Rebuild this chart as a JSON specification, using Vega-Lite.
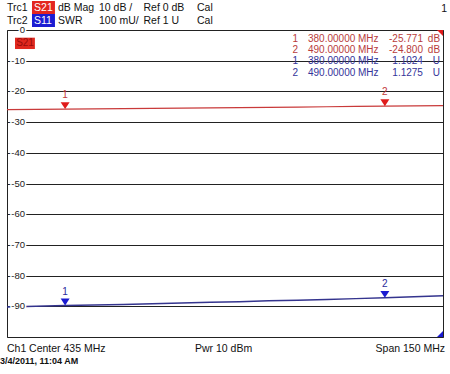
{
  "$schema": "https://vega.github.io/schema/vega-lite/v6.json",
  "width": 436,
  "height": 307,
  "autosize": {"type": "none"},
  "padding": {"left": 7, "top": 30, "right": 7, "bottom": 37},
  "background": "white",
  "config": {
    "font": "Liberation Sans",
    "view": {"stroke": "#222222", "strokeWidth": 1},
    "text": {"font": "Liberation Sans"}
  },
  "datasets": {
    "s21": [
      {"f": 360, "db": -25.95}, {"f": 370, "db": -25.88}, {"f": 380, "db": -25.771},
      {"f": 390, "db": -25.72}, {"f": 400, "db": -25.62}, {"f": 410, "db": -25.55},
      {"f": 420, "db": -25.45}, {"f": 430, "db": -25.38}, {"f": 440, "db": -25.3},
      {"f": 450, "db": -25.2}, {"f": 460, "db": -25.1}, {"f": 470, "db": -25.0},
      {"f": 480, "db": -24.9}, {"f": 490, "db": -24.8}, {"f": 500, "db": -24.72},
      {"f": 510, "db": -24.62}
    ],
    "swr": [
      {"f": 360, "swr": 1.098}, {"f": 370, "swr": 1.1}, {"f": 380, "swr": 1.1024},
      {"f": 390, "swr": 1.104}, {"f": 400, "swr": 1.106}, {"f": 410, "swr": 1.108},
      {"f": 420, "swr": 1.111}, {"f": 430, "swr": 1.113}, {"f": 440, "swr": 1.115},
      {"f": 450, "swr": 1.118}, {"f": 460, "swr": 1.12}, {"f": 470, "swr": 1.122},
      {"f": 480, "swr": 1.125}, {"f": 490, "swr": 1.1275}, {"f": 500, "swr": 1.131},
      {"f": 510, "swr": 1.134}
    ],
    "s21markers": [
      {"marker": "1", "f": 380, "db": -25.771},
      {"marker": "2", "f": 490, "db": -24.8}
    ],
    "swrmarkers": [
      {"marker": "1", "f": 380, "swr": 1.1024},
      {"marker": "2", "f": 490, "swr": 1.1275}
    ],
    "refs": [
      {"trace": "S21", "ref": 0, "unit": "dB"},
      {"trace": "S11", "ref": 1, "unit": "U"}
    ],
    "ticks": [
      {"db": 0, "label": "0"}, {"db": -10, "label": "-10"}, {"db": -20, "label": "-20"},
      {"db": -30, "label": "-30"}, {"db": -40, "label": "-40"}, {"db": -50, "label": "-50"},
      {"db": -60, "label": "-60"}, {"db": -70, "label": "-70"}, {"db": -80, "label": "-80"},
      {"db": -90, "label": "-90"}
    ],
    "readout": [
      {"row": 1, "trace": "S21", "marker": "1", "freq": "380.00000 MHz", "value": "-25.771", "unit": "dB"},
      {"row": 2, "trace": "S21", "marker": "2", "freq": "490.00000 MHz", "value": "-24.800", "unit": "dB"},
      {"row": 3, "trace": "S11", "marker": "1", "freq": "380.00000 MHz", "value": "1.1024", "unit": "U"},
      {"row": 4, "trace": "S11", "marker": "2", "freq": "490.00000 MHz", "value": "1.1275", "unit": "U"}
    ],
    "header": [
      {"line": 1, "trc": "Trc1", "param": "S21", "format": "dB Mag", "scale": "10 dB /", "ref": "Ref 0 dB", "cal": "Cal"},
      {"line": 2, "trc": "Trc2", "param": "S11", "format": "SWR", "scale": "100 mU/", "ref": "Ref 1 U", "cal": "Cal"}
    ],
    "channel": [{"ch": "1"}],
    "active": [{"param": "S21"}],
    "footer": [
      {"ch": "Ch1", "center": "Center  435 MHz", "pwr": "Pwr  10 dBm", "span": "Span  150 MHz", "stamp": "3/4/2011, 11:04 AM"}
    ]
  },
  "resolve": {"scale": {"y": "independent", "color": "independent"}},
  "layer": [
    {
      "data": {"name": "s21"},
      "mark": {"type": "line", "color": "#c93a3a", "strokeWidth": 1.2},
      "encoding": {
        "x": {"field": "f", "type": "quantitative", "scale": {"domain": [360, 510], "nice": false, "zero": false},
          "axis": {"values": [360, 375, 390, 405, 420, 435, 450, 465, 480, 495, 510], "grid": true, "labels": false, "ticks": false, "domain": false, "title": null,
            "gridColor": {"condition": {"test": "datum.value === 405 || datum.value === 450 || datum.value === 495", "value": "#9a9a9a"}, "value": "#222222"},
            "gridOpacity": 1, "gridWidth": 1}},
        "y": {"field": "db", "type": "quantitative", "scale": {"domain": [-100, 0], "nice": false, "zero": false},
          "axis": {"values": [-100, -90, -80, -70, -60, -50, -40, -30, -20, -10, 0], "grid": true, "labels": false, "ticks": false, "domain": false, "title": null, "gridColor": "#222222", "gridOpacity": 1, "gridWidth": 1}}
      }
    },
    {
      "data": {"name": "swr"},
      "mark": {"type": "line", "color": "#34348e", "strokeWidth": 1.5},
      "encoding": {
        "x": {"field": "f", "type": "quantitative", "scale": {"domain": [360, 510], "nice": false, "zero": false}, "axis": null},
        "y": {"field": "swr", "type": "quantitative", "scale": {"domain": [1, 2], "nice": false, "zero": false}, "axis": null}
      }
    },
    {
      "data": {"name": "s21markers"},
      "mark": {"type": "point", "shape": "M-1,-1.55L1,-1.55L0,0Z", "size": 81, "filled": true, "opacity": 1, "color": "#e01b1b", "strokeWidth": 0},
      "encoding": {
        "x": {"field": "f", "type": "quantitative", "scale": {"domain": [360, 510], "nice": false, "zero": false}, "axis": null},
        "y": {"field": "db", "type": "quantitative", "scale": {"domain": [-100, 0], "nice": false, "zero": false}, "axis": null}
      }
    },
    {
      "data": {"name": "s21markers"},
      "mark": {"type": "text", "fontSize": 10, "color": "#c23b3b", "dy": -14, "baseline": "middle", "align": "center"},
      "encoding": {
        "x": {"field": "f", "type": "quantitative", "scale": {"domain": [360, 510], "nice": false, "zero": false}, "axis": null},
        "y": {"field": "db", "type": "quantitative", "scale": {"domain": [-100, 0], "nice": false, "zero": false}, "axis": null},
        "text": {"field": "marker"}
      }
    },
    {
      "data": {"name": "swrmarkers"},
      "mark": {"type": "point", "shape": "M-1,-1.55L1,-1.55L0,0Z", "size": 81, "filled": true, "opacity": 1, "color": "#1a1ad0", "strokeWidth": 0},
      "encoding": {
        "x": {"field": "f", "type": "quantitative", "scale": {"domain": [360, 510], "nice": false, "zero": false}, "axis": null},
        "y": {"field": "swr", "type": "quantitative", "scale": {"domain": [1, 2], "nice": false, "zero": false}, "axis": null}
      }
    },
    {
      "data": {"name": "swrmarkers"},
      "mark": {"type": "text", "fontSize": 10, "color": "#2b2b9b", "dy": -14, "baseline": "middle", "align": "center"},
      "encoding": {
        "x": {"field": "f", "type": "quantitative", "scale": {"domain": [360, 510], "nice": false, "zero": false}, "axis": null},
        "y": {"field": "swr", "type": "quantitative", "scale": {"domain": [1, 2], "nice": false, "zero": false}, "axis": null},
        "text": {"field": "marker"}
      }
    },
    {
      "data": {"name": "refs"},
      "transform": [{"filter": "datum.trace === 'S21'"}],
      "mark": {"type": "point", "shape": "M-1,0L0,0L0,1Z", "size": 144, "filled": true, "opacity": 1, "color": "#e01b1b", "strokeWidth": 0},
      "encoding": {
        "x": {"datum": 510, "scale": {"domain": [360, 510], "nice": false, "zero": false}, "axis": null},
        "y": {"field": "ref", "type": "quantitative", "scale": {"domain": [-100, 0], "nice": false, "zero": false}, "axis": null}
      }
    },
    {
      "data": {"name": "refs"},
      "transform": [{"filter": "datum.trace === 'S11'"}],
      "mark": {"type": "point", "shape": "M0,-1L0,0L-1,0Z", "size": 144, "filled": true, "opacity": 1, "color": "#1a1ad0", "strokeWidth": 0},
      "encoding": {
        "x": {"datum": 510, "scale": {"domain": [360, 510], "nice": false, "zero": false}, "axis": null},
        "y": {"field": "ref", "type": "quantitative", "scale": {"domain": [1, 2], "nice": false, "zero": false}, "axis": null}
      }
    },
    {
      "data": {"name": "ticks"},
      "mark": {"type": "text", "fontSize": 9.5, "align": "right", "baseline": "middle", "stroke": "white", "strokeWidth": 3, "fill": "white"},
      "encoding": {
        "x": {"datum": 366.2, "scale": {"domain": [360, 510], "nice": false, "zero": false}, "axis": null},
        "y": {"field": "db", "type": "quantitative", "scale": {"domain": [-100, 0], "nice": false, "zero": false}, "axis": null},
        "text": {"field": "label"}
      }
    },
    {
      "data": {"name": "ticks"},
      "mark": {"type": "text", "fontSize": 9.5, "align": "right", "baseline": "middle", "color": "#222222"},
      "encoding": {
        "x": {"datum": 366.2, "scale": {"domain": [360, 510], "nice": false, "zero": false}, "axis": null},
        "y": {"field": "db", "type": "quantitative", "scale": {"domain": [-100, 0], "nice": false, "zero": false}, "axis": null},
        "text": {"field": "label"}
      }
    },
    {
      "data": {"name": "active"},
      "mark": {"type": "rect", "color": "#e0281e"},
      "encoding": {
        "x": {"datum": 362.75, "scale": {"domain": [360, 510], "nice": false, "zero": false}, "axis": null},
        "x2": {"datum": 369.6},
        "y": {"datum": -2.5, "scale": {"domain": [-100, 0], "nice": false, "zero": false}, "axis": null},
        "y2": {"datum": -6.2}
      }
    },
    {
      "data": {"name": "active"},
      "mark": {"type": "text", "fontSize": 10, "align": "center", "baseline": "middle", "color": "#9a0c0c"},
      "encoding": {
        "x": {"datum": 366.2, "scale": {"domain": [360, 510], "nice": false, "zero": false}, "axis": null},
        "y": {"datum": -4.35, "scale": {"domain": [-100, 0], "nice": false, "zero": false}, "axis": null},
        "text": {"field": "param"}
      }
    },
    {
      "data": {"name": "header"},
      "mark": {"type": "rect"},
      "encoding": {
        "x": {"datum": 368.6, "scale": {"domain": [360, 510], "nice": false, "zero": false}, "axis": null},
        "x2": {"datum": 376.5},
        "y": {"field": "line", "type": "ordinal", "scale": {"type": "band", "domain": [1, 2], "range": [-29, -3], "paddingInner": 0, "paddingOuter": 0}, "axis": null},
        "color": {"field": "param", "type": "nominal", "scale": {"domain": ["S21", "S11"], "range": ["#e3261f", "#1c1cd2"]}, "legend": null}
      }
    },
    {
      "data": {"name": "header"},
      "mark": {"type": "text", "fontSize": 10.5, "align": "left", "baseline": "middle", "color": "#111111"},
      "encoding": {
        "x": {"datum": 360.0, "scale": {"domain": [360, 510], "nice": false, "zero": false}, "axis": null},
        "y": {"field": "line", "type": "ordinal", "scale": {"type": "band", "domain": [1, 2], "range": [-29, -3], "paddingInner": 0, "paddingOuter": 0}, "axis": null},
        "text": {"field": "trc"}
      }
    },
    {
      "data": {"name": "header"},
      "mark": {"type": "text", "fontSize": 10.5, "align": "left", "baseline": "middle", "color": "white"},
      "encoding": {
        "x": {"datum": 369.3, "scale": {"domain": [360, 510], "nice": false, "zero": false}, "axis": null},
        "y": {"field": "line", "type": "ordinal", "scale": {"type": "band", "domain": [1, 2], "range": [-29, -3], "paddingInner": 0, "paddingOuter": 0}, "axis": null},
        "text": {"field": "param"}
      }
    },
    {
      "data": {"name": "header"},
      "mark": {"type": "text", "fontSize": 10.5, "align": "left", "baseline": "middle", "color": "#111111"},
      "encoding": {
        "x": {"datum": 377.55, "scale": {"domain": [360, 510], "nice": false, "zero": false}, "axis": null},
        "y": {"field": "line", "type": "ordinal", "scale": {"type": "band", "domain": [1, 2], "range": [-29, -3], "paddingInner": 0, "paddingOuter": 0}, "axis": null},
        "text": {"field": "format"}
      }
    },
    {
      "data": {"name": "header"},
      "mark": {"type": "text", "fontSize": 10.5, "align": "left", "baseline": "middle", "color": "#111111"},
      "encoding": {
        "x": {"datum": 391.65, "scale": {"domain": [360, 510], "nice": false, "zero": false}, "axis": null},
        "y": {"field": "line", "type": "ordinal", "scale": {"type": "band", "domain": [1, 2], "range": [-29, -3], "paddingInner": 0, "paddingOuter": 0}, "axis": null},
        "text": {"field": "scale"}
      }
    },
    {
      "data": {"name": "header"},
      "mark": {"type": "text", "fontSize": 10.5, "align": "left", "baseline": "middle", "color": "#111111"},
      "encoding": {
        "x": {"datum": 406.96, "scale": {"domain": [360, 510], "nice": false, "zero": false}, "axis": null},
        "y": {"field": "line", "type": "ordinal", "scale": {"type": "band", "domain": [1, 2], "range": [-29, -3], "paddingInner": 0, "paddingOuter": 0}, "axis": null},
        "text": {"field": "ref"}
      }
    },
    {
      "data": {"name": "header"},
      "mark": {"type": "text", "fontSize": 10.5, "align": "left", "baseline": "middle", "color": "#111111"},
      "encoding": {
        "x": {"datum": 425.36, "scale": {"domain": [360, 510], "nice": false, "zero": false}, "axis": null},
        "y": {"field": "line", "type": "ordinal", "scale": {"type": "band", "domain": [1, 2], "range": [-29, -3], "paddingInner": 0, "paddingOuter": 0}, "axis": null},
        "text": {"field": "cal"}
      }
    },
    {
      "data": {"name": "channel"},
      "mark": {"type": "text", "fontSize": 10.5, "align": "right", "baseline": "middle", "color": "#111111"},
      "encoding": {
        "x": {"datum": 511.4, "scale": {"domain": [360, 510], "nice": false, "zero": false}, "axis": null},
        "y": {"datum": 7.0, "scale": {"domain": [-100, 0], "nice": false, "zero": false}, "axis": null},
        "text": {"field": "ch"}
      }
    },
    {
      "data": {"name": "readout"},
      "mark": {"type": "text", "fontSize": 10, "align": "right", "baseline": "middle"},
      "encoding": {
        "x": {"datum": 460.1, "scale": {"domain": [360, 510], "nice": false, "zero": false}, "axis": null},
        "y": {"field": "row", "type": "ordinal", "scale": {"type": "point", "domain": [1, 2, 3, 4], "range": [9, 42.5], "padding": 0}, "axis": null},
        "color": {"field": "trace", "type": "nominal", "scale": {"domain": ["S21", "S11"], "range": ["#b83c3c", "#34349a"]}, "legend": null},
        "text": {"field": "marker"}
      }
    },
    {
      "data": {"name": "readout"},
      "mark": {"type": "text", "fontSize": 10, "align": "left", "baseline": "middle"},
      "encoding": {
        "x": {"datum": 463.55, "scale": {"domain": [360, 510], "nice": false, "zero": false}, "axis": null},
        "y": {"field": "row", "type": "ordinal", "scale": {"type": "point", "domain": [1, 2, 3, 4], "range": [9, 42.5], "padding": 0}, "axis": null},
        "color": {"field": "trace", "type": "nominal", "scale": {"domain": ["S21", "S11"], "range": ["#b83c3c", "#34349a"]}, "legend": null},
        "text": {"field": "freq"}
      }
    },
    {
      "data": {"name": "readout"},
      "mark": {"type": "text", "fontSize": 10, "align": "right", "baseline": "middle"},
      "encoding": {
        "x": {"datum": 503.1, "scale": {"domain": [360, 510], "nice": false, "zero": false}, "axis": null},
        "y": {"field": "row", "type": "ordinal", "scale": {"type": "point", "domain": [1, 2, 3, 4], "range": [9, 42.5], "padding": 0}, "axis": null},
        "color": {"field": "trace", "type": "nominal", "scale": {"domain": ["S21", "S11"], "range": ["#b83c3c", "#34349a"]}, "legend": null},
        "text": {"field": "value"}
      }
    },
    {
      "data": {"name": "readout"},
      "mark": {"type": "text", "fontSize": 10, "align": "right", "baseline": "middle"},
      "encoding": {
        "x": {"datum": 509.0, "scale": {"domain": [360, 510], "nice": false, "zero": false}, "axis": null},
        "y": {"field": "row", "type": "ordinal", "scale": {"type": "point", "domain": [1, 2, 3, 4], "range": [9, 42.5], "padding": 0}, "axis": null},
        "color": {"field": "trace", "type": "nominal", "scale": {"domain": ["S21", "S11"], "range": ["#b83c3c", "#34349a"]}, "legend": null},
        "text": {"field": "unit"}
      }
    },
    {
      "data": {"name": "footer"},
      "mark": {"type": "text", "fontSize": 10.5, "align": "left", "baseline": "middle", "color": "#111111"},
      "encoding": {
        "x": {"datum": 360.0, "scale": {"domain": [360, 510], "nice": false, "zero": false}, "axis": null},
        "y": {"datum": -103.75, "scale": {"domain": [-100, 0], "nice": false, "zero": false}, "axis": null},
        "text": {"field": "ch"}
      }
    },
    {
      "data": {"name": "footer"},
      "mark": {"type": "text", "fontSize": 10.5, "align": "left", "baseline": "middle", "color": "#111111"},
      "encoding": {
        "x": {"datum": 367.6, "scale": {"domain": [360, 510], "nice": false, "zero": false}, "axis": null},
        "y": {"datum": -103.75, "scale": {"domain": [-100, 0], "nice": false, "zero": false}, "axis": null},
        "text": {"field": "center"}
      }
    },
    {
      "data": {"name": "footer"},
      "mark": {"type": "text", "fontSize": 10.5, "align": "left", "baseline": "middle", "color": "#111111"},
      "encoding": {
        "x": {"datum": 424.68, "scale": {"domain": [360, 510], "nice": false, "zero": false}, "axis": null},
        "y": {"datum": -103.75, "scale": {"domain": [-100, 0], "nice": false, "zero": false}, "axis": null},
        "text": {"field": "pwr"}
      }
    },
    {
      "data": {"name": "footer"},
      "mark": {"type": "text", "fontSize": 10.5, "align": "right", "baseline": "middle", "color": "#111111"},
      "encoding": {
        "x": {"datum": 510.7, "scale": {"domain": [360, 510], "nice": false, "zero": false}, "axis": null},
        "y": {"datum": -103.75, "scale": {"domain": [-100, 0], "nice": false, "zero": false}, "axis": null},
        "text": {"field": "span"}
      }
    },
    {
      "data": {"name": "footer"},
      "mark": {"type": "text", "fontSize": 9, "fontWeight": "bold", "align": "left", "baseline": "middle", "color": "#111111"},
      "encoding": {
        "x": {"datum": 357.6, "scale": {"domain": [360, 510], "nice": false, "zero": false}, "axis": null},
        "y": {"datum": -107.98, "scale": {"domain": [-100, 0], "nice": false, "zero": false}, "axis": null},
        "text": {"field": "stamp"}
      }
    }
  ]
}
